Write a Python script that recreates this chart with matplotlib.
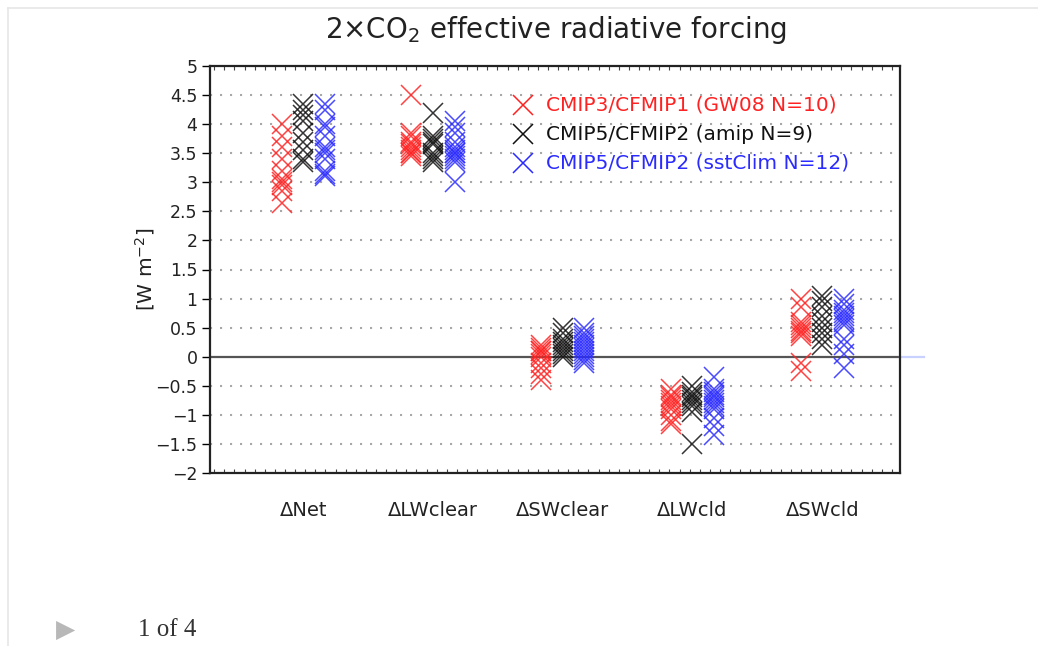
import matplotlib
matplotlib.use("Agg")
import matplotlib.pyplot as plt
from matplotlib.ticker import MultipleLocator
from matplotlib.lines import Line2D

# Forcing components (x categories)
categories = ["ΔNet", "ΔLWclear", "ΔSWclear", "ΔLWcld", "ΔSWcld"]

# Model ensembles: per-model values for each component [W m-2]
cmip3_gw08 = {
    "ΔNet":     [4.0, 3.8, 3.6, 3.4, 3.2, 3.05, 3.0, 2.95, 2.85, 2.65],
    "ΔLWclear": [4.5, 3.85, 3.8, 3.7, 3.65, 3.6, 3.55, 3.5, 3.5, 3.45],
    "ΔSWclear": [0.2, 0.15, 0.1, 0.1, 0.05, 0.0, -0.1, -0.2, -0.3, -0.4],
    "ΔLWcld":   [-0.55, -0.65, -0.7, -0.75, -0.8, -0.85, -0.9, -1.0, -1.1, -1.15],
    "ΔSWcld":   [1.0, 0.85, 0.6, 0.55, 0.5, 0.45, 0.4, 0.35, -0.1, -0.25],
}
cmip5_amip = {
    "ΔNet":     [4.35, 4.25, 4.15, 4.05, 3.85, 3.7, 3.55, 3.4, 3.35],
    "ΔLWclear": [4.2, 3.8, 3.75, 3.7, 3.65, 3.5, 3.45, 3.4, 3.35],
    "ΔSWclear": [0.5, 0.4, 0.3, 0.25, 0.2, 0.15, 0.1, 0.05, 0.0],
    "ΔLWcld":   [-0.5, -0.6, -0.65, -0.7, -0.75, -0.8, -0.85, -0.95, -1.5],
    "ΔSWcld":   [1.05, 0.95, 0.85, 0.7, 0.6, 0.5, 0.4, 0.3, 0.2],
}
cmip5_sstclim = {
    "ΔNet":     [4.35, 4.25, 4.0, 3.95, 3.8, 3.6, 3.55, 3.5, 3.4, 3.2, 3.15, 3.1],
    "ΔLWclear": [4.05, 3.95, 3.85, 3.7, 3.6, 3.55, 3.5, 3.5, 3.45, 3.4, 3.35, 3.0],
    "ΔSWclear": [0.5, 0.4, 0.35, 0.3, 0.25, 0.2, 0.15, 0.1, 0.05, 0.0, -0.05, -0.1],
    "ΔLWcld":   [-0.35, -0.55, -0.6, -0.65, -0.7, -0.75, -0.8, -0.85, -0.9, -1.05, -1.2, -1.35],
    "ΔSWcld":   [1.0, 0.9, 0.8, 0.75, 0.7, 0.65, 0.6, 0.55, 0.3, 0.2, 0.05, -0.2],
}

series_labels = ["CMIP3/CFMIP1 (GW08 N=10)", "CMIP5/CFMIP2 (amip N=9)",
                 "CMIP5/CFMIP2 (sstClim N=12)"]
series_data = [cmip3_gw08, cmip5_amip, cmip5_sstclim]
series_colors = ["#ff2222", "#111111", "#2b2bff"]
series_offsets = [-1 / 6, 0.0, 1 / 6]

y_ticks = [-2, -1.5, -1, -0.5, 0, 0.5, 1, 1.5, 2, 2.5, 3, 3.5, 4, 4.5, 5]
y_ticklabels = ["\u22122", "\u22121.5", "\u22121", "\u22120.5", "0", "0.5", "1",
                "1.5", "2", "2.5", "3", "3.5", "4", "4.5", "5"]

W, H = 1038, 646
fig = plt.figure(figsize=(W / 100, H / 100), dpi=100)
fig.patch.set_facecolor("white")

# page frame lines
fig.add_artist(Line2D([8 / W, 1.0], [1 - 8 / H, 1 - 8 / H], color="#e6e6e6", lw=1.2))
fig.add_artist(Line2D([8 / W, 8 / W], [0.0, 1 - 8 / H], color="#e6e6e6", lw=1.2))

left, right, top, bottom = 210, 900, 66, 473
ax = fig.add_axes([left / W, 1 - bottom / H, (right - left) / W, (bottom - top) / H])

xs = range(1, len(categories) + 1)
ax.set_xlim(0.28, 5.6)
ax.set_ylim(-2, 5)

# dotted horizontal guides
for yv in y_ticks[1:-1]:
    if yv == 0:
        continue
    ax.axhline(yv, color="#a8a8a8", lw=1.5, linestyle=(0, (1, 3.8)), zorder=1)
ax.axhline(0, color="#555555", lw=1.6, zorder=2)
ax.plot([1.0, 1.035], [0, 0], transform=ax.get_yaxis_transform(),
        color="#c9d2ff", lw=1.6, clip_on=False, zorder=2)

for data, color, off in zip(series_data, series_colors, series_offsets):
    for xi, cat in zip(xs, categories):
        vals = data[cat]
        ax.plot([xi + off] * len(vals), vals, linestyle="none", marker="x",
                markersize=15, mew=1.1, color=color, alpha=0.85, zorder=3)

ax.set_yticks(y_ticks)
ax.set_yticklabels(y_ticklabels, fontsize=12.5, color="#222222")
ax.tick_params(axis="y", direction="out", length=6, width=1, pad=3, right=False)
ax.set_xticks([])
ax.xaxis.set_minor_locator(MultipleLocator(0.078))
ax.tick_params(axis="x", which="minor", direction="in", length=3, width=0.8,
               top=True, bottom=True, color="#444444")
for sp in ax.spines.values():
    sp.set_linewidth(1.6)
    sp.set_color("#222222")

for xi, cat in zip(xs, categories):
    ax.text(xi, -2.65, cat, ha="center", va="center", fontsize=14, color="#222222")

ax.set_ylabel("[W m$^{-2}$]", fontsize=14.5, color="#222222")
ax.yaxis.set_label_coords(-0.077, 0.5)

fig.text(556 / W, 1 - 30 / H, "2\u00d7CO$_2$ effective radiative forcing",
         ha="center", va="center", fontsize=20, color="#222222")

# legend
for i, (label, color) in enumerate(zip(series_labels, series_colors)):
    y_px = 105 + 29 * i
    fig.add_artist(Line2D([523 / W], [1 - y_px / H], marker="x", markersize=14,
                          mew=1.1, color=color, linestyle="none"))
    fig.text(546 / W, 1 - y_px / H, label, ha="left", va="center",
             fontsize=14.5, color=color)

# pager footer
fig.text(66 / W, 1 - 630 / H, "\u25B6", ha="center", va="center",
         fontsize=18, color="#b8b8b8")
fig.text(138 / W, 1 - 630 / H, "1 of 4", ha="left", va="center",
         fontsize=18, color="#333333", family="Liberation Serif")

fig.savefig("out.png", dpi=100, facecolor="white")
